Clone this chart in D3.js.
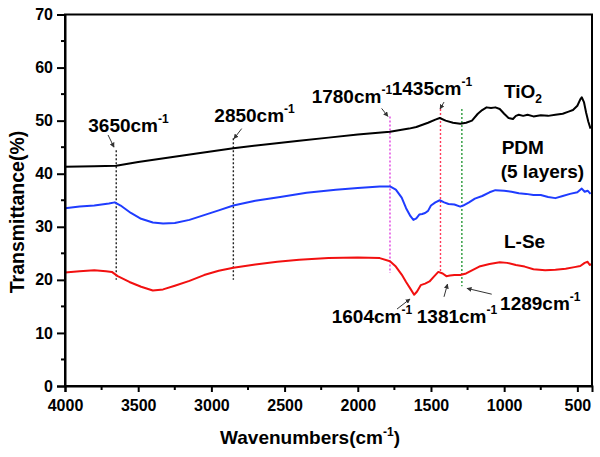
<!DOCTYPE html>
<html>
<head>
<meta charset="utf-8">
<script src="https://cdn.jsdelivr.net/npm/d3@7"></script>
<style>
  html, body { margin: 0; padding: 0; background: #fff; }
  svg { display: block; font-family: "Liberation Sans", Arial, sans-serif; font-weight: bold; }
</style>
</head>
<body>
<svg id="chart" width="600" height="457"></svg>
<script>
// ---------- data ----------
const xTicks = [4000, 3500, 3000, 2500, 2000, 1500, 1000, 500];
const yTicks = [0, 10, 20, 30, 40, 50, 60, 70];

const tio2Wn = [4000,3800,3650,3500,3300,3100,2850,2600,2400,2200,2000,1780,1650,1600,1520,1470,1440,1400,1350,1300,1260,1220,1180,1150,1120,1090,1060,1030,1000,970,940,920,900,870,840,800,750,700,650,600,560,530,500,480,470,455,440,425,410];
const tio2Val = [41.3,41.4,41.5,42.2,43.0,43.8,44.8,45.6,46.2,46.8,47.4,47.9,48.5,48.8,49.6,50.2,50.5,50.0,49.6,49.4,49.6,50.0,51.3,52.0,52.5,52.4,52.5,52.2,51.3,50.5,50.3,50.9,51.1,50.9,51.1,50.8,51.0,50.9,51.1,51.3,51.7,52.0,52.8,54.0,54.4,53.5,51.5,49.8,48.5];

const pdmWn = [4000,3900,3800,3700,3660,3620,3550,3480,3400,3330,3250,3150,3050,2950,2850,2700,2530,2350,2150,2000,1850,1780,1740,1700,1670,1640,1620,1600,1580,1560,1540,1520,1500,1470,1440,1410,1380,1340,1300,1280,1240,1200,1150,1100,1060,1000,950,900,850,800,750,700,650,600,550,500,470,450,430,410];
const pdmVal = [33.5,33.8,34.0,34.4,34.6,34.0,32.6,31.5,30.8,30.6,30.7,31.3,32.2,33.1,34.0,34.9,35.6,36.4,37.0,37.3,37.6,37.6,37.0,35.5,33.5,32.0,31.3,31.6,32.3,32.4,32.6,33.0,34.0,34.6,35.0,34.6,34.3,34.2,33.8,34.0,34.6,35.3,35.8,36.5,36.9,36.8,36.6,36.3,36.2,36.0,36.0,35.6,35.4,35.8,36.2,36.5,37.2,36.6,36.8,36.2];

const lseWn = [4000,3900,3800,3720,3680,3640,3560,3480,3400,3330,3250,3150,3050,2950,2850,2700,2550,2400,2200,2000,1850,1780,1740,1700,1670,1640,1615,1595,1570,1540,1510,1480,1450,1420,1395,1370,1340,1300,1260,1220,1170,1100,1030,980,920,860,800,720,650,580,520,480,450,430,415,405];
const lseVal = [21.4,21.6,21.8,21.6,21.5,20.7,19.6,18.7,18.0,18.2,18.9,19.8,20.9,21.7,22.3,22.9,23.4,23.8,24.1,24.2,24.1,23.5,22.5,21.0,19.6,18.3,17.2,17.8,19.0,19.3,19.7,20.6,21.5,21.2,20.7,20.8,20.9,20.9,21.2,21.8,22.5,23.0,23.3,23.2,22.8,22.5,22.0,21.8,21.9,22.1,22.4,22.6,23.2,23.4,22.8,23.0];

// marker lines: wavenumber, top value, bottom value
const markWn = [3650, 2850, 1780, 1435, 1289];
const markTop = [44.4, 46.7, 50.8, 52.2, 52.2];
const markBot = [20.0, 20.0, 21.3, 21.5, 18.8];
const markColor = ["#222", "#222", "#e040e0", "#ff3a5a", "#2a9a3a"];

// peak labels: text, wavenumber anchor, value anchor (baseline)
const labelText = ["3650cm", "2850cm", "1780cm", "1435cm", "1604cm", "1381cm", "1289cm"];
const labelWn = [3841, 2980, 2315, 1768, 2178, 1597, 1028];
const labelVal = [47.8, 49.7, 53.3, 54.8, 11.9, 11.9, 14.3];

// arrows: from (wn, val) to (wn, val)
const arrowFrom = [[3706, 47.3], [2793, 48.5], [1837, 52.3], [1411, 53.5], [1732, 14.5], [1411, 16.8], [1085, 17.3]];
const arrowTo = [[3665, 45.0], [2846, 46.6], [1794, 50.8], [1438, 52.2], [1643, 16.4], [1387, 19.2], [1254, 18.4]];

// ---------- drawing ----------
const svg = d3.select("#chart");
const x = d3.scaleLinear().domain([4000, 400]).range([65, 592]);
const y = d3.scaleLinear().domain([0, 70]).range([386, 14.5]);

const defs = svg.append("defs");
defs.append("marker").attr("id", "ah").attr("viewBox", "0 0 10 10")
  .attr("refX", 9).attr("refY", 5).attr("markerWidth", 5).attr("markerHeight", 5)
  .attr("orient", "auto")
  .append("path").attr("d", "M0,0 L10,5 L0,10 z").attr("fill", "#333");

// marker lines
markWn.forEach((w, i) => {
  svg.append("line")
    .attr("x1", x(w)).attr("x2", x(w))
    .attr("y1", y(markTop[i])).attr("y2", y(markBot[i]))
    .attr("stroke", markColor[i]).attr("stroke-width", 1.4)
    .attr("stroke-dasharray", "2,2");
});

// curves
const line = d3.line().x(d => x(d[0])).y(d => y(d[1]));
const series = [
  [tio2Wn, tio2Val, "#000000"],
  [pdmWn, pdmVal, "#1f3cff"],
  [lseWn, lseVal, "#f21010"]
];
series.forEach(s => {
  svg.append("path")
    .datum(d3.zip(s[0], s[1]))
    .attr("d", line)
    .attr("fill", "none")
    .attr("stroke", s[2])
    .attr("stroke-width", 2)
    .attr("stroke-linejoin", "round");
});

// frame
svg.append("rect")
  .attr("x", x(4000)).attr("y", y(70))
  .attr("width", x(400) - x(4000)).attr("height", y(0) - y(70))
  .attr("fill", "none").attr("stroke", "#000").attr("stroke-width", 2);

// axes
const xAxis = svg.append("g").attr("transform", `translate(0,${y(0)})`)
  .call(d3.axisBottom(x).tickValues(xTicks).tickSize(6).tickPadding(8).tickFormat(d3.format("d")));
const yAxis = svg.append("g").attr("transform", `translate(${x(4000)},0)`)
  .call(d3.axisLeft(y).tickValues(yTicks).tickSize(8).tickPadding(4).tickFormat(d3.format("d")));
[xAxis, yAxis].forEach(g => {
  g.select(".domain").attr("stroke-width", 2);
  g.selectAll(".tick line").attr("stroke-width", 2);
  g.selectAll(".tick text").attr("font-size", 16).attr("font-weight", "bold")
    .attr("font-family", '"Liberation Sans", Arial, sans-serif').attr("fill", "#000");
});
// minor ticks
const xMinor = d3.range(3750, 400, -500);
svg.append("g").selectAll("line").data(xMinor).join("line")
  .attr("x1", d => x(d)).attr("x2", d => x(d))
  .attr("y1", y(0)).attr("y2", y(0) + 4)
  .attr("stroke", "#000").attr("stroke-width", 2);
const yMinor = d3.range(5, 70, 10);
svg.append("g").selectAll("line").data(yMinor).join("line")
  .attr("x1", x(4000) - 4).attr("x2", x(4000))
  .attr("y1", d => y(d)).attr("y2", d => y(d))
  .attr("stroke", "#000").attr("stroke-width", 2);

// axis titles
const xt = svg.append("text").attr("x", 310).attr("y", 444)
  .attr("text-anchor", "middle").attr("font-size", 19);
xt.append("tspan").text("Wavenumbers(cm");
xt.append("tspan").attr("dy", -8).attr("font-size", 12).text("-1");
xt.append("tspan").attr("dy", 8).text(")");

svg.append("text")
  .attr("transform", "translate(24,212) rotate(-90)")
  .attr("text-anchor", "middle").attr("font-size", 19.5)
  .text("Transmittance(%)");

// peak labels
labelText.forEach((t, i) => {
  const tx = svg.append("text").attr("x", x(labelWn[i])).attr("y", y(labelVal[i]))
    .attr("font-size", 19);
  tx.append("tspan").text(t);
  tx.append("tspan").attr("dy", -9).attr("font-size", 12).text("-1");
});

// arrows
arrowFrom.forEach((f, i) => {
  svg.append("line")
    .attr("x1", x(f[0])).attr("y1", y(f[1]))
    .attr("x2", x(arrowTo[i][0])).attr("y2", y(arrowTo[i][1]))
    .attr("stroke", "#333").attr("stroke-width", 1)
    .attr("marker-end", "url(#ah)");
});

// series labels
const tio = svg.append("text").attr("x", x(1001)).attr("y", y(54.2)).attr("font-size", 19);
tio.append("tspan").text("TiO");
tio.append("tspan").attr("dy", 5).attr("font-size", 12).text("2");
svg.append("text").attr("x", x(1017)).attr("y", y(43.7)).attr("font-size", 19).text("PDM");
svg.append("text").attr("x", x(1024)).attr("y", y(39.2)).attr("font-size", 19).text("(5 layers)");
svg.append("text").attr("x", x(1001)).attr("y", y(26.0)).attr("font-size", 19).text("L-Se");
</script>
</body>
</html>
